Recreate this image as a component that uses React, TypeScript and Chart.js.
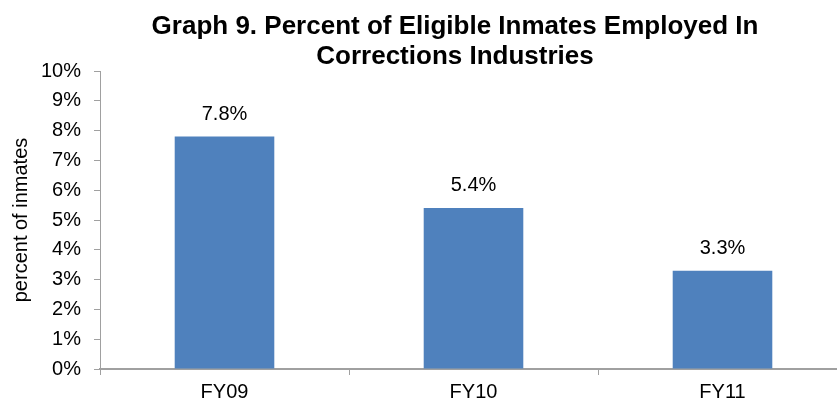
import React, { useEffect, useRef } from "react";
import { Chart, registerables } from "chart.js";

Chart.register(...registerables);

const categories = ["FY09", "FY10", "FY11"];
const values = [7.8, 5.4, 3.3];
const yMin = 0;
const yMax = 10;
const yStep = 1;
const titleLines = ["Graph 9. Percent of Eligible Inmates Employed In", "Corrections Industries"];
const yAxisTitle = "percent of inmates";

const FONT = "'Liberation Sans', Arial, Helvetica, sans-serif";

export default function App() {
  const ref = useRef<HTMLCanvasElement>(null);

  useEffect(() => {
    document.body.style.margin = "0";
    if (!ref.current) return;

    const annotate = {
      id: "annotate",
      afterDatasetsDraw(chart: any) {
        const ctx = chart.ctx as CanvasRenderingContext2D;
        const meta = chart.getDatasetMeta(0);
        const area = chart.chartArea;
        ctx.save();
        ctx.fillStyle = "#000";
        ctx.textAlign = "center";
        ctx.textBaseline = "alphabetic";
        ctx.font = `20px ${FONT}`;
        meta.data.forEach((bar: any, i: number) => {
          ctx.fillText(values[i].toFixed(1) + "%", bar.x, bar.y - 17);
        });
        ctx.font = `bold 26px ${FONT}`;
        ctx.fillText(titleLines[0], 455, 34);
        ctx.fillText(titleLines[1], 455, 64);
        ctx.font = `20px ${FONT}`;
        ctx.translate(27, (area.top + area.bottom) / 2);
        ctx.rotate(-Math.PI / 2);
        ctx.fillText(yAxisTitle, 0, 0);
        ctx.restore();
      },
    };

    const chart = new Chart(ref.current, {
      type: "bar",
      data: {
        labels: categories,
        datasets: [
          {
            data: values,
            backgroundColor: "#4F81BD",
            borderWidth: 0,
            barPercentage: 0.4,
            categoryPercentage: 1.0,
          },
        ],
      },
      options: {
        responsive: false,
        animation: false,
        devicePixelRatio: 1,
        layout: { padding: { top: 71, right: 13, left: 0, bottom: 0 } },
        plugins: {
          legend: { display: false },
          tooltip: { enabled: false },
          title: { display: false },
        },
        scales: {
          x: {
            ticks: { font: { size: 20, family: FONT }, color: "#000", padding: 5 },
            grid: { offset: true, drawOnChartArea: false, drawTicks: true, tickLength: 6, color: "#a0a0a0" },
            border: { color: "#a0a0a0", width: 2 },
            afterFit: (s: any) => {
              s.height = 33;
            },
          },
          y: {
            min: yMin,
            max: yMax,
            ticks: {
              stepSize: yStep,
              font: { size: 20, family: FONT },
              color: "#000",
              padding: 13,
              callback: (v: any) => v + "%",
            },
            grid: { drawOnChartArea: false, drawTicks: true, tickLength: 6, color: "#a0a0a0" },
            border: { color: "#a0a0a0", width: 1 },
            afterFit: (s: any) => {
              s.width = 100;
            },
          },
        },
      },
      plugins: [annotate],
    });

    return () => chart.destroy();
  }, []);

  return (
    <div style={{ width: 837, height: 402, overflow: "hidden", background: "#fff" }}>
      <canvas ref={ref} width={860} height={402} />
    </div>
  );
}
